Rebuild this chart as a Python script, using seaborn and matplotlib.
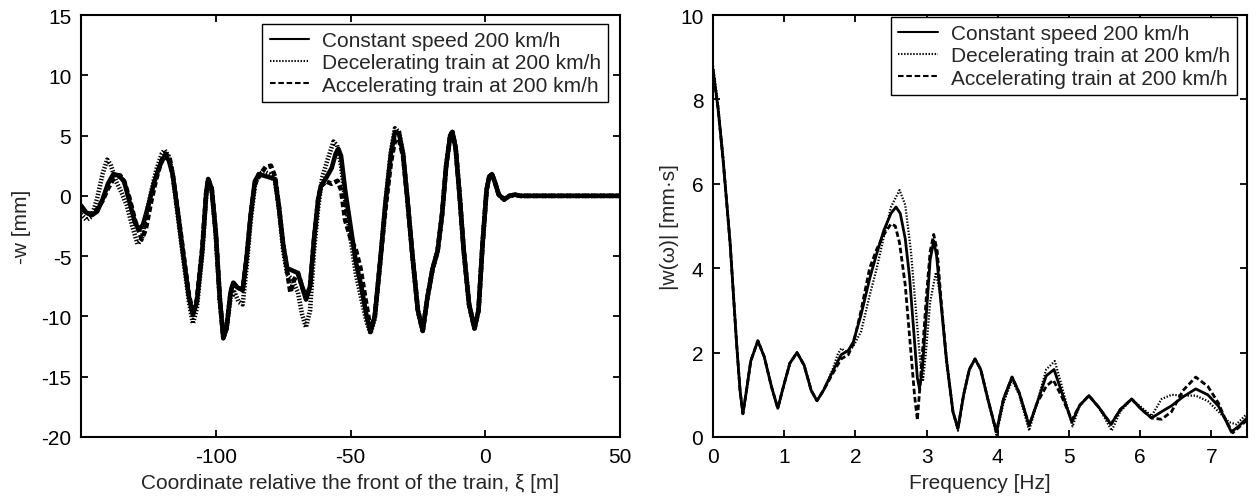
import numpy as np
import pandas as pd
import matplotlib
matplotlib.use('Agg')
import matplotlib.pyplot as plt
import seaborn as sns

# ---- left panel: deflection vs coordinate relative to train front ----
XI_CONST = [-150, -148, -146, -144, -142, -140, -138, -136, -134, -132, -130, -128.5, -127, -125,
            -123, -121, -119, -117.5, -116, -114, -112, -110, -108.5, -107, -105, -103.5, -102.8,
            -101.5, -100, -98.5, -97.2, -96, -94.5, -93.5, -92, -90, -88.5, -87, -85.5, -84, -81,
            -78, -76.5, -75, -73.5, -71.5, -69.5, -68, -66.5, -65, -63.5, -62, -61, -59, -57,
            -55.5, -54.5, -53.5, -52, -50, -48, -46, -44, -42.6, -41, -39, -37, -35, -33.5, -32,
            -30.5, -29]
W_CONST = [-0.8, -1.4, -1.6, -1.3, -0.3, 1.0, 1.8, 1.7, 1.2, -0.5, -2.2, -2.8, -2.4, -0.8,
           1.0, 2.4, 3.3, 3.0, 1.8, -1.5, -5.0, -8.3, -9.9, -8.8, -4.5, 0.3, 1.4,
           0.6, -3.0, -8.5, -11.8, -11.0, -8.0, -7.2, -7.6, -7.8, -5.0, -1.5, 1.2, 1.8, 1.6,
           1.4, -1.0, -4.0, -6.0, -6.2, -6.4, -7.5, -8.6, -7.5, -3.5, -0.3, 0.8, 1.5, 2.3,
           3.5, 3.9, 3.3, 0.5, -2.5, -5.5, -7.5, -10.0, -11.3, -10.0, -5.5, -0.5, 3.5, 5.3, 5.2,
           3.5, 0.0]

XI_DECEL = [-150, -148, -146, -144, -142, -140.3, -139, -137, -135, -133, -131, -129, -127.5, -126,
            -124, -122, -120, -119, -117.5, -116, -114, -112, -110, -108.5, -107, -105, -103.5,
            -102.8, -101.5, -100, -98.5, -97.2, -96, -94.5, -93, -91.5, -90, -88.5, -87, -85.5,
            -84, -82, -80, -78, -76.5, -75, -73.5, -71.5, -69.5, -68, -66.5, -65, -63.5, -62,
            -60.5, -58.5, -56.3, -55, -53.5, -52, -50, -48, -46, -44, -42.6, -41, -39, -37, -35,
            -33.5, -32, -30.5, -29]
W_DECEL = [-1.5, -2.0, -1.7, -0.2, 1.8, 3.0, 2.6, 1.2, 0.3, -0.8, -2.5, -4.0, -3.6, -1.8,
           0.3, 2.2, 3.5, 3.8, 3.3, 1.8, -1.8, -5.3, -8.7, -10.6, -9.3, -4.8, 0.2,
           1.3, 0.4, -3.2, -8.7, -11.5, -11.0, -8.5, -8.0, -8.8, -9.0, -5.8, -2.0, 0.8,
           1.8, 2.0, 1.8, 1.2, -1.2, -4.5, -6.5, -7.0, -8.0, -9.8, -10.9, -9.5, -4.5, -1.0,
           1.5, 3.0, 4.5, 4.2, 2.5, -0.3, -3.5, -6.5, -8.5, -10.5, -11.4, -10.2, -5.5, -0.5, 3.7,
           5.6, 5.3, 3.5, 0.0]

XI_ACCEL = [-150, -148, -146, -144, -142, -140, -138, -135.5, -134, -132, -130, -127.5, -126, -124,
            -122, -120, -118.5, -117, -116, -114, -112, -110, -108.5, -107, -105, -103.5, -102.8,
            -101.5, -100, -98.5, -97.2, -96, -94.5, -93.5, -92, -90, -88.5, -87, -85.5, -84,
            -81.5, -79.5, -78, -76.5, -75, -73.5, -72.3, -71, -69.5, -68, -66.5, -65, -63.5, -62,
            -61, -59, -57, -54.8, -53.5, -52, -50, -48, -46.3, -44.5, -42.6, -41, -39, -37, -35,
            -33.5, -32, -30.5, -29]
W_ACCEL = [-1.0, -1.4, -1.5, -1.1, -0.4, 0.6, 1.4, 1.7, 1.2, -0.2, -2.0, -3.6, -2.8, -0.5,
           1.5, 3.0, 3.5, 3.0, 1.8, -1.4, -4.8, -8.2, -9.7, -8.6, -4.3, 0.4, 1.4,
           0.6, -3.0, -8.5, -11.8, -11.0, -8.0, -7.2, -7.6, -7.8, -5.0, -1.5, 1.0, 1.6,
           2.4, 2.5, 1.6, -1.0, -4.0, -6.3, -8.0, -7.0, -6.4, -7.5, -8.5, -7.5, -3.5, -0.3,
           0.8, 1.2, 1.0, 1.25, 0.5, -2.0, -3.5, -4.5, -6.0, -8.5, -11.0, -10.0, -5.5, -1.0, 2.8,
           4.6, 4.7, 3.3, 0.0]

# common part of all three curves near and ahead of the train front
XI_TAIL = [-27, -25, -23.2, -21.5, -19.5, -17.7, -16, -14.5, -13, -12.2, -11, -9.5, -8, -6, -4,
           -2.5, -1, 0.5, 1.5, 2.5, 3.5, 5, 7, 9, 11, 13, 50]
W_TAIL = [-5.0, -9.5, -11.2, -8.5, -6.0, -4.6, -1.5, 2.5, 5.0, 5.3, 4.0, 0.0, -4.5, -9.0, -11.0,
          -9.5, -4.0, 0.5, 1.6, 1.8, 1.2, 0.1, -0.3, 0.0, 0.1, 0.0, 0.0]

# ---- right panel: spectrum magnitude ----
F_CONST = [0, 0.07, 0.14, 0.24, 0.33, 0.38, 0.42, 0.47, 0.53, 0.63, 0.72, 0.82, 0.91, 0.99, 1.08,
           1.18, 1.28, 1.38, 1.46, 1.55, 1.68, 1.8, 1.9, 1.97, 2.08, 2.2, 2.3, 2.4, 2.5, 2.57,
           2.63, 2.7, 2.76, 2.82, 2.87, 2.9, 2.94, 3.0, 3.05, 3.1, 3.14, 3.2, 3.28, 3.37, 3.44,
           3.52, 3.6, 3.68, 3.76, 3.86, 3.98, 4.08, 4.2, 4.3, 4.44, 4.55, 4.68, 4.79, 4.9, 5.04,
           5.15, 5.28, 5.42, 5.59, 5.72, 5.88, 6.02, 6.16, 6.3, 6.44, 6.6, 6.78, 6.95, 7.1, 7.2,
           7.28, 7.38, 7.5]
A_CONST = [8.7, 7.8, 6.6, 4.6, 2.25, 1.1, 0.55, 1.1, 1.8, 2.28, 1.9, 1.2, 0.68, 1.2, 1.75,
           2.0, 1.7, 1.1, 0.86, 1.1, 1.55, 1.95, 2.05, 2.25, 2.9, 3.75, 4.35, 4.9, 5.3, 5.45,
           5.3, 4.7, 3.8, 2.5, 1.4, 1.15, 1.6, 3.0, 4.2, 4.65, 4.3, 3.2, 1.8, 0.6, 0.2,
           1.0, 1.6, 1.85, 1.6, 0.9, 0.12, 0.9, 1.42, 1.05, 0.27, 0.8, 1.45, 1.6, 1.05, 0.35,
           0.75, 0.98, 0.7, 0.3, 0.65, 0.9, 0.65, 0.45, 0.6, 0.74, 0.95, 1.14, 1.0, 0.73, 0.4,
           0.12, 0.25, 0.45]

F_DECEL = [0, 0.07, 0.14, 0.24, 0.33, 0.38, 0.42, 0.47, 0.53, 0.63, 0.72, 0.82, 0.91, 0.99, 1.08,
           1.18, 1.28, 1.38, 1.46, 1.55, 1.68, 1.75, 1.8, 1.88, 1.97, 2.08, 2.2, 2.3, 2.4, 2.5,
           2.62, 2.7, 2.78, 2.86, 2.92, 2.95, 2.99, 3.05, 3.13, 3.2, 3.28, 3.37, 3.44, 3.52, 3.6,
           3.68, 3.76, 3.86, 3.98, 4.08, 4.2, 4.3, 4.44, 4.55, 4.68, 4.8, 4.9, 5.05, 5.15, 5.28,
           5.42, 5.6, 5.72, 5.88, 6.02, 6.16, 6.3, 6.44, 6.6, 6.78, 6.95, 7.1, 7.25, 7.35, 7.5]
A_DECEL = [8.8, 7.9, 6.7, 4.6, 2.25, 1.1, 0.55, 1.1, 1.8, 2.28, 1.9, 1.2, 0.68, 1.2, 1.75,
           2.0, 1.7, 1.1, 0.86, 1.1, 1.6, 1.95, 2.1, 2.0, 2.15, 2.5, 3.35, 4.0, 4.75, 5.45,
           5.85, 5.5, 4.4, 2.8, 1.6, 1.35, 2.0, 3.2, 3.9, 3.3, 1.9, 0.6, 0.15, 1.0, 1.6,
           1.85, 1.6, 0.9, 0.05, 0.8, 1.35, 1.0, 0.15, 0.8, 1.6, 1.8, 1.2, 0.25, 0.75, 0.98,
           0.7, 0.15, 0.6, 0.9, 0.7, 0.5, 0.9, 1.0, 0.98, 0.98, 0.85, 0.6, 0.35, 0.3, 0.55]

F_ACCEL = [0, 0.07, 0.14, 0.24, 0.33, 0.38, 0.42, 0.47, 0.53, 0.63, 0.72, 0.82, 0.91, 0.99, 1.08,
           1.18, 1.28, 1.38, 1.46, 1.55, 1.68, 1.8, 1.9, 1.97, 2.08, 2.2, 2.3, 2.4, 2.5, 2.56,
           2.62, 2.7, 2.77, 2.83, 2.87, 2.92, 3.0, 3.05, 3.1, 3.15, 3.2, 3.28, 3.37, 3.44, 3.52,
           3.6, 3.68, 3.76, 3.86, 3.98, 4.08, 4.2, 4.3, 4.44, 4.55, 4.68, 4.78, 4.9, 5.04, 5.15,
           5.28, 5.42, 5.59, 5.72, 5.88, 6.02, 6.16, 6.3, 6.44, 6.6, 6.78, 6.95, 7.1, 7.2, 7.3,
           7.4, 7.5]
A_ACCEL = [8.7, 7.8, 6.6, 4.6, 2.25, 1.1, 0.55, 1.1, 1.8, 2.28, 1.9, 1.2, 0.68, 1.2, 1.75,
           2.0, 1.7, 1.1, 0.86, 1.1, 1.5, 1.85, 1.95, 2.2, 3.0, 4.0, 4.45, 4.8, 5.05, 5.0,
           4.6, 3.6, 2.2, 1.0, 0.4, 1.5, 3.4, 4.4, 4.8, 4.4, 3.3, 1.8, 0.6, 0.2, 1.0,
           1.6, 1.85, 1.6, 0.9, 0.12, 0.9, 1.42, 1.05, 0.27, 0.8, 1.2, 1.35, 0.95, 0.4, 0.75,
           0.98, 0.7, 0.3, 0.65, 0.9, 0.65, 0.45, 0.42, 0.6, 1.1, 1.42, 1.2, 0.8, 0.4, 0.1,
           0.25, 0.4]

LABELS = ["Constant speed 200 km/h", "Decelerating train at 200 km/h",
          "Accelerating train at 200 km/h"]
LEFT_XTICKS = [-100, -50, 0, 50]
LEFT_YTICKS = [15, 10, 5, 0, -5, -10, -15, -20]
RIGHT_XTICKS = [0, 1, 2, 3, 4, 5, 6, 7]
RIGHT_YTICKS = [0, 2, 4, 6, 8, 10]

sns.set_style("ticks")
plt.rcParams['font.family'] = ['Liberation Sans', 'DejaVu Sans']
plt.rcParams['lines.scale_dashes'] = False
plt.rcParams['axes.unicode_minus'] = False
FS = 15

STYLES = ['-', (0, (1, 1.2)), (0, (4, 2))]

fig = plt.figure(figsize=(12.56, 5.02), dpi=100)
ax1 = fig.add_axes([81 / 1256, 64 / 502, 539 / 1256, 422 / 502])
ax2 = fig.add_axes([713 / 1256, 64 / 502, 534 / 1256, 422 / 502])

left_curves = [
    (XI_CONST + XI_TAIL, W_CONST + W_TAIL),
    (XI_DECEL + XI_TAIL, W_DECEL + W_TAIL),
    (XI_ACCEL + XI_TAIL, W_ACCEL + W_TAIL),
]
right_curves = [(F_CONST, A_CONST), (F_DECEL, A_DECEL), (F_ACCEL, A_ACCEL)]

# draw so the solid line sits on top, but keep legend order
order = [1, 2, 0]
for i in order:
    x, y = left_curves[i]
    sns.lineplot(x=x, y=y, ax=ax1, color='black', linestyle=STYLES[i], lw=3.3,
                 label=LABELS[i], sort=False, estimator=None,
                 solid_joinstyle='round', dash_joinstyle='round',
                 zorder=3 if i == 0 else 2)
for i in order:
    x, y = right_curves[i]
    sns.lineplot(x=x, y=y, ax=ax2, color='black', linestyle=STYLES[i],
                 lw=1.6 if i == 1 else 2.0,
                 label=LABELS[i], sort=False, estimator=None,
                 solid_joinstyle='round', dash_joinstyle='round',
                 zorder=3 if i == 0 else 2)

ax1.set_xlim(-150, 50)
ax1.set_ylim(-20, 15)
ax1.set_xticks(LEFT_XTICKS)
ax1.set_yticks(LEFT_YTICKS)
ax1.set_xlabel("Coordinate relative the front of the train, ξ [m]", fontsize=FS, labelpad=5)
ax1.set_ylabel("-w [mm]", fontsize=FS, labelpad=7)

ax2.set_xlim(0, 7.5)
ax2.set_ylim(0, 10)
ax2.set_xticks(RIGHT_XTICKS)
ax2.set_yticks(RIGHT_YTICKS)
ax2.set_xlabel("Frequency [Hz]", fontsize=FS, labelpad=5)
ax2.set_ylabel("|w(ω)| [mm·s]", fontsize=FS, labelpad=1)

anchors = [(1 - 12 / 539, 1 - 9 / 422), (1 - 10 / 534, 1 - 2 / 422)]
for ax, anchor in zip([ax1, ax2], anchors):
    for s in ax.spines.values():
        s.set_linewidth(1.5)
        s.set_color('black')
        s.set_visible(True)
    ax.tick_params(direction='in', length=5, width=1.3, top=True, right=True,
                   labelsize=FS, pad=7, colors='black')
    handles, labels = ax.get_legend_handles_labels()
    idx = [labels.index(l) for l in LABELS]
    leg = ax.legend([handles[k] for k in idx], LABELS, loc='upper right',
                    bbox_to_anchor=anchor, borderaxespad=0, fontsize=FS,
                    frameon=True, fancybox=False, edgecolor='black', framealpha=1,
                    handlelength=1.9, handletextpad=0.6, labelspacing=0.15,
                    borderpad=0.35)
    leg.get_frame().set_linewidth(1.0)
    for line in leg.get_lines():
        line.set_linewidth(1.5)

fig.savefig("out.png", dpi=100)
